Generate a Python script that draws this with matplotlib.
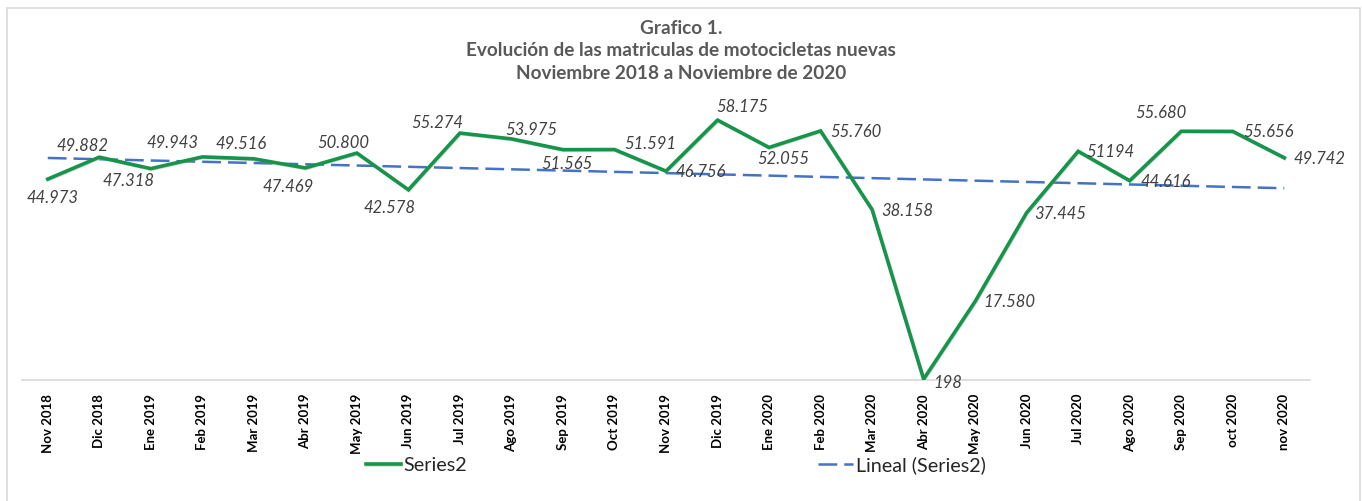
import numpy as np
import matplotlib
matplotlib.use("Agg")
from matplotlib import pyplot as plt
from matplotlib import patches
from matplotlib import patheffects as pe

meses = ["Nov 2018", "Dic 2018", "Ene 2019", "Feb 2019", "Mar 2019", "Abr 2019",
         "May 2019", "Jun 2019", "Jul 2019", "Ago 2019", "Sep 2019", "Oct 2019",
         "Nov 2019", "Dic 2019", "Ene 2020", "Feb 2020", "Mar 2020", "Abr 2020",
         "May 2020", "Jun 2020", "Jul 2020", "Ago 2020", "Sep 2020", "oct 2020",
         "nov 2020"]
matriculas = [44973, 49882, 47318, 49943, 49516, 47469, 50800, 42578, 55274,
              53975, 51565, 51591, 46756, 58175, 52055, 55760, 38158, 198,
              17580, 37445, 51194, 44616, 55680, 55656, 49742]
etiquetas = ["44.973", "49.882", "47.318", "49.943", "49.516", "47.469", "50.800",
             "42.578", "55.274", "53.975", "51.565", "51.591", "46.756", "58.175",
             "52.055", "55.760", "38.158", "198", "17.580", "37.445", "51194",
             "44.616", "55.680", "55.656", "49.742"]

# label offsets in pixels (dx, dy downward), as placed in the original
offsets = [(5, 19), (-17, -11), (-22, 12), (-30, -14), (-13, -15), (-17, 19),
           (-14, -10), (-19, 18), (-23, -10), (20, -9), (4, 14), (36, -6),
           (35, 1), (25, -13), (14, 12), (35, 1), (35, 1), (24, 4), (34, 1),
           (34, 1), (32, 1), (36, 1), (-20, -18), (36, 1), (35, 1)]

W, H = 1362, 501
fig = plt.figure(figsize=(W / 100, H / 100), dpi=100)
ax = fig.add_axes([22 / W, (H - 380) / H, (1310 - 22) / W, 280 / H])

x = np.arange(len(meses))
verde = "#16954A"
azul = "#4472C4"

pend, inter = np.polyfit(x, matriculas, 1)
ax.plot(x, pend * x + inter, color=azul, lw=1.8, dashes=(7.5, 2.8),
        label="Lineal (Series2)", zorder=2)
ax.plot(x, matriculas, color=verde, lw=2.6, label="Series2", zorder=3,
        solid_joinstyle="miter",
        path_effects=[pe.SimpleLineShadow(offset=(0.5, -0.5), shadow_color="#999999", alpha=0.35),
                      pe.Normal()])

for i, (v, t) in enumerate(zip(matriculas, etiquetas)):
    dx, dy = offsets[i]
    ax.annotate(t, (x[i], v), xytext=(dx, -dy), textcoords="offset pixels",
                ha="center", va="center", fontsize=12, style="italic",
                color="#404040", family="Lato", zorder=4)

ax.set_xlim(-0.5, len(meses) - 0.5)
ax.set_ylim(0, 62680)
ax.set_xticks(x)
ax.set_xticklabels(meses, rotation=90, fontsize=9.5, fontweight="bold",
                   family="Lato", color="black")
ax.tick_params(axis="x", length=0, pad=10)
ax.set_yticks([])
for s in ["top", "left", "right"]:
    ax.spines[s].set_visible(False)
ax.spines["bottom"].set_color("#d9d9d9")
ax.spines["bottom"].set_linewidth(1.2)
ax.patch.set_alpha(0)

fig.text(0.5, 1 - 51 / H,
         "Grafico 1.\nEvolución de las matriculas de motocicletas nuevas\nNoviembre 2018 a Noviembre de 2020",
         ha="center", va="center", fontsize=13.7, fontweight="bold", color="#595959",
         family="Lato", linespacing=1.4)

h, l = ax.get_legend_handles_labels()
leg = fig.legend(h[::-1], l[::-1], loc="center", bbox_to_anchor=(676 / W, 1 - 465 / H),
                 ncol=2, frameon=False, handlelength=1.75, handletextpad=0.15,
                 columnspacing=17.8, prop={"family": "Lato", "size": 14.2})
for t in leg.get_texts():
    t.set_color("#262626")

fig.add_artist(patches.Rectangle((7 / W, -0.05), (1360 - 7) / W, 1 - 8 / H + 0.05,
                                 transform=fig.transFigure, fill=False,
                                 edgecolor="#d9d9d9", lw=1.2))

fig.savefig("out.png", dpi=100)
